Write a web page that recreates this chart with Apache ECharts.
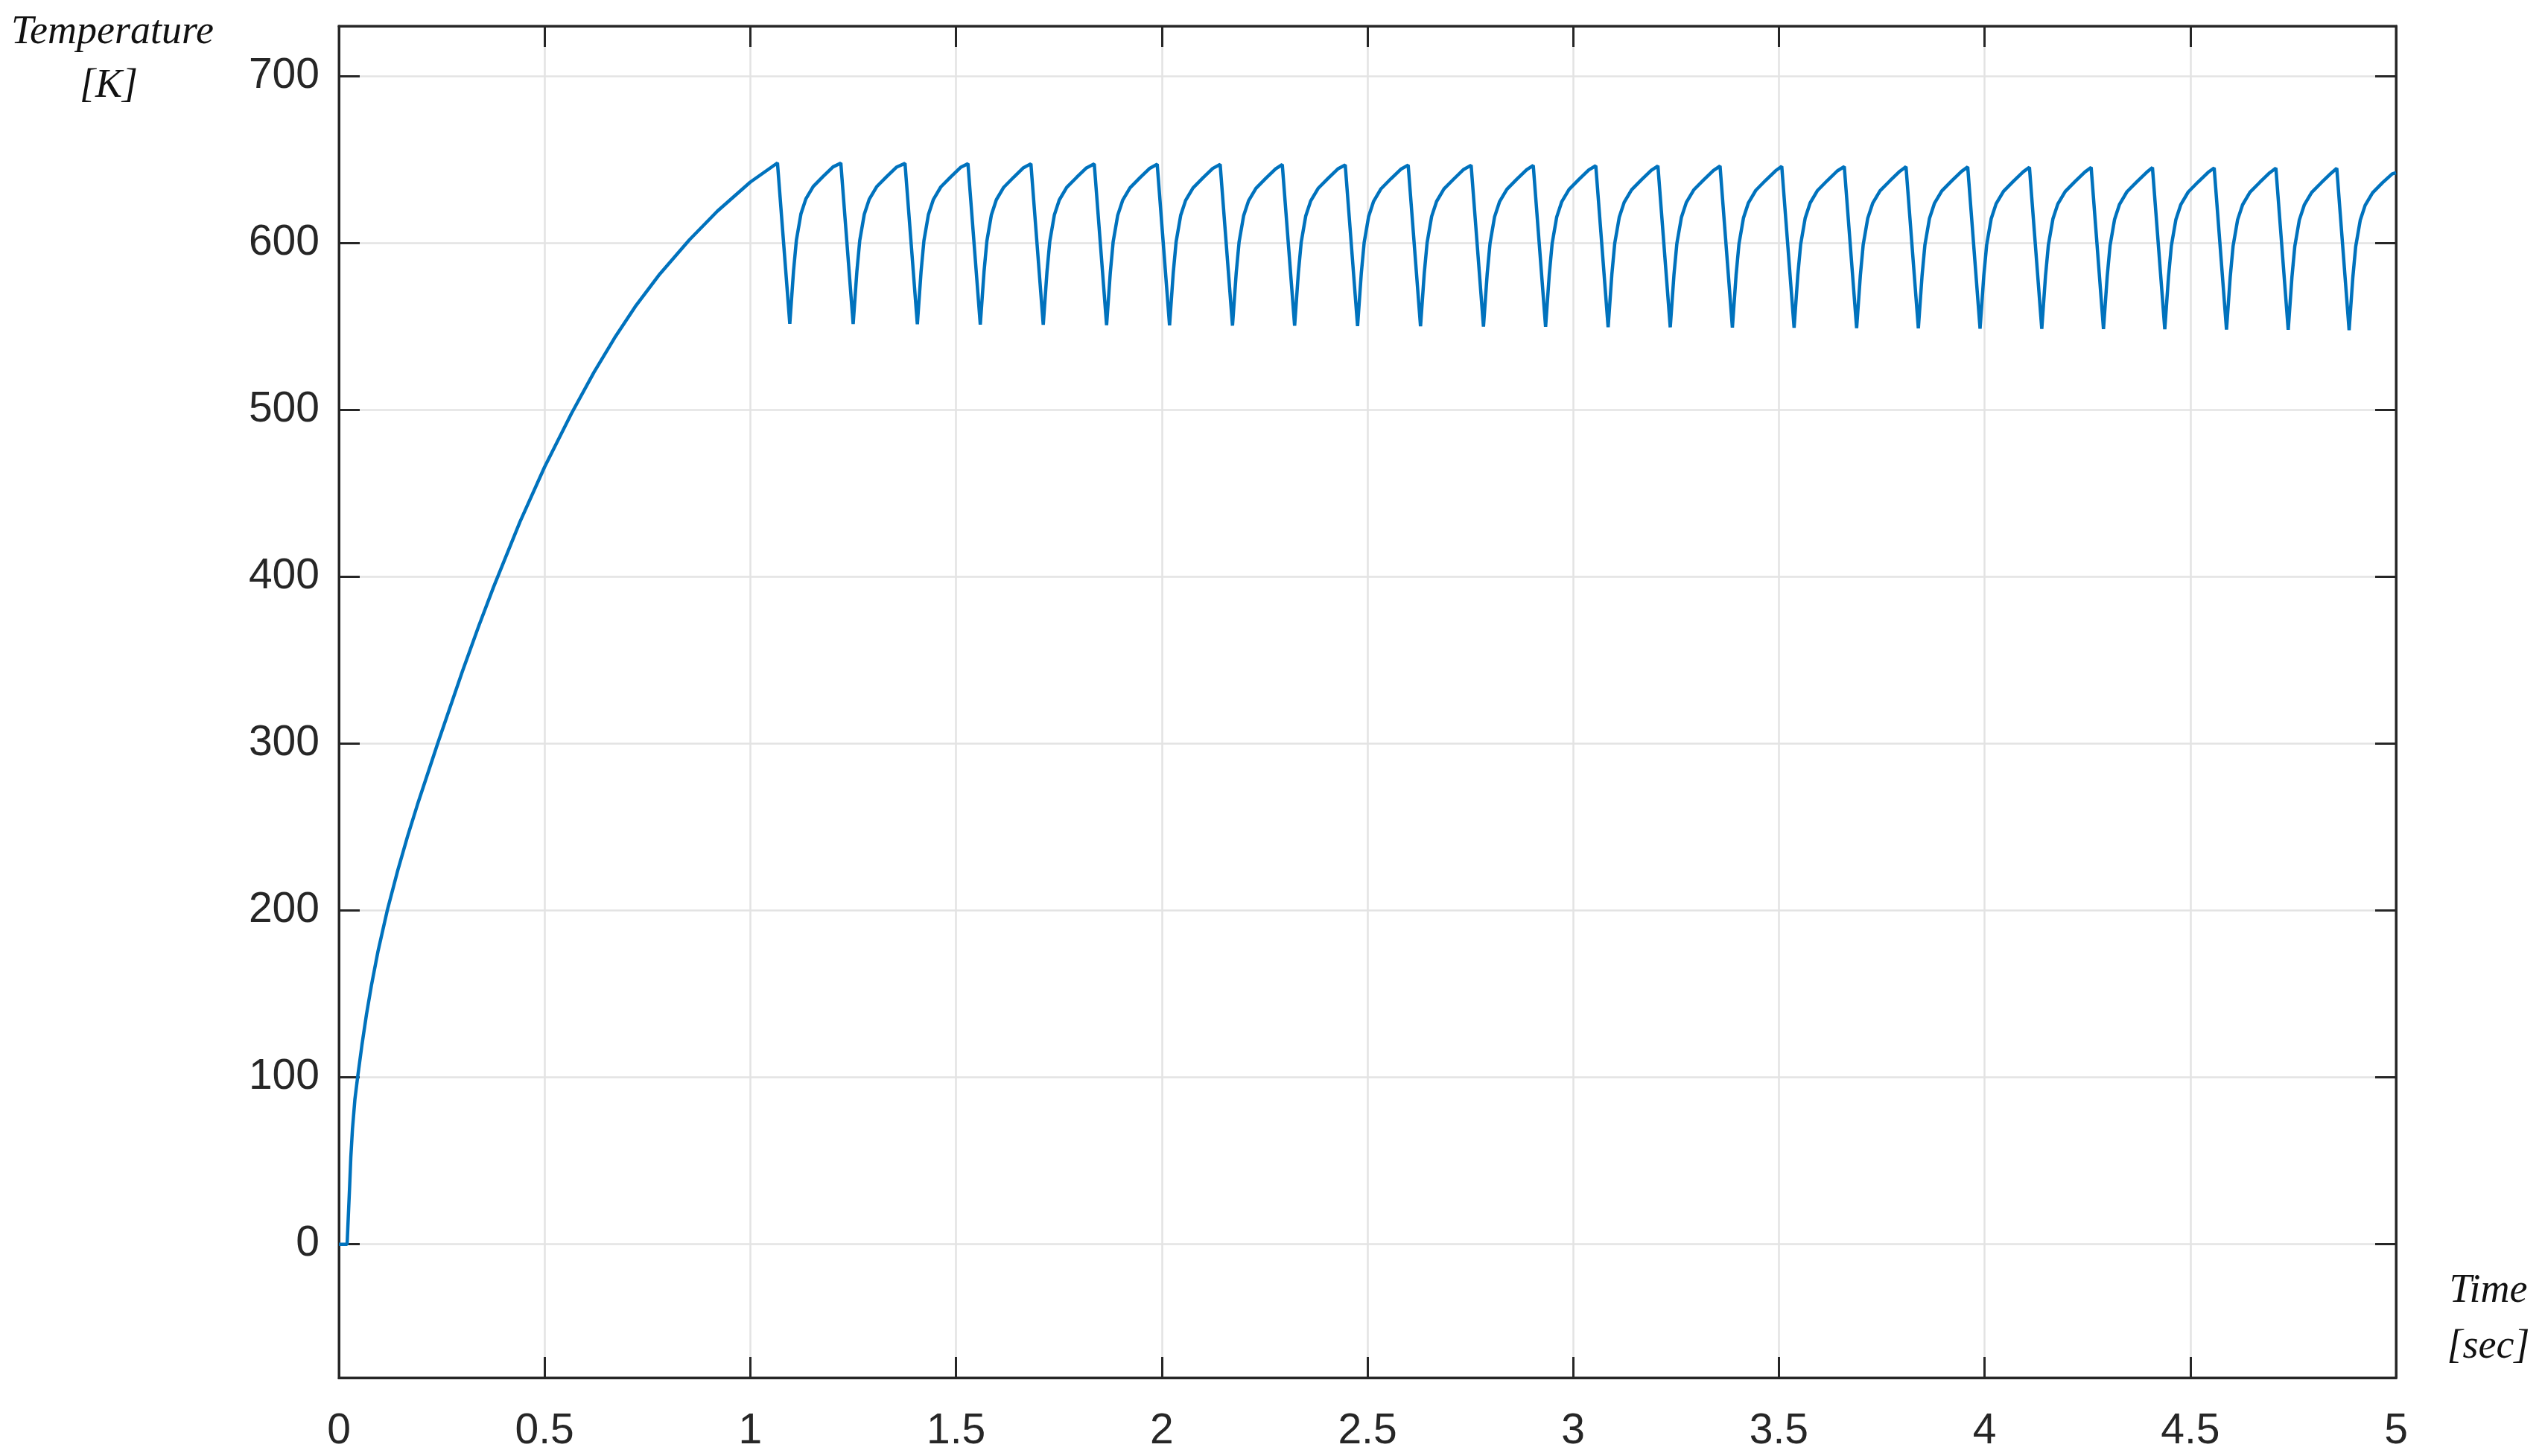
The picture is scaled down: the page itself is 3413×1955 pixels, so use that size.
<!DOCTYPE html>
<html>
<head>
<meta charset="utf-8">
<script src="https://cdn.jsdelivr.net/npm/echarts@6/dist/echarts.min.js"></script>
<style>
html,body{margin:0;padding:0;background:#fff;}
#chart{width:3413px;height:1955px;}
</style>
</head>
<body>
<div id="chart"></div>
<script>
// Heating phase (time in s, temperature in K)
const heatTime = [0, 0.020, 0.023, 0.026, 0.029, 0.033, 0.039, 0.0455, 0.056, 0.067, 0.079, 0.095, 0.118, 0.143,
  0.167, 0.191, 0.240, 0.300, 0.340, 0.376, 0.440, 0.500, 0.565, 0.620, 0.670, 0.720, 0.780, 0.852, 0.920, 1.000];
const heatTemp = [0, 0, 17, 34, 52, 69, 87, 100, 119.4, 137.6, 155, 175.5, 200.5, 224,
  244.5, 263.5, 300, 343.2, 370.5, 393.9, 432.8, 465.8, 497.7, 522.5, 543.1, 561.8, 581.4, 601.9, 619.1, 636.5];

// Cycling phase: peak, minimum, then recovery points of each cycle
const cycleTime = [
  1.066, 1.096, 1.105, 1.112, 1.123, 1.135, 1.153, 1.177, 1.201,
  1.220, 1.250, 1.259, 1.266, 1.277, 1.289, 1.307, 1.331, 1.355,
  1.376, 1.406, 1.415, 1.422, 1.433, 1.445, 1.463, 1.487, 1.511,
  1.529, 1.559, 1.568, 1.575, 1.586, 1.598, 1.616, 1.640, 1.664,
  1.682, 1.712, 1.721, 1.728, 1.739, 1.751, 1.769, 1.793, 1.817,
  1.836, 1.866, 1.875, 1.882, 1.893, 1.905, 1.923, 1.947, 1.971,
  1.989, 2.019, 2.028, 2.035, 2.046, 2.058, 2.076, 2.100, 2.124,
  2.142, 2.172, 2.181, 2.188, 2.199, 2.211, 2.229, 2.253, 2.277,
  2.293, 2.323, 2.332, 2.339, 2.350, 2.362, 2.380, 2.404, 2.428,
  2.446, 2.476, 2.485, 2.492, 2.503, 2.515, 2.533, 2.557, 2.581,
  2.599, 2.629, 2.638, 2.645, 2.656, 2.668, 2.686, 2.710, 2.734,
  2.752, 2.782, 2.791, 2.798, 2.809, 2.821, 2.839, 2.863, 2.887,
  2.903, 2.933, 2.942, 2.949, 2.960, 2.972, 2.990, 3.014, 3.038,
  3.055, 3.085, 3.094, 3.101, 3.112, 3.124, 3.142, 3.166, 3.190,
  3.206, 3.236, 3.245, 3.252, 3.263, 3.275, 3.293, 3.317, 3.341,
  3.357, 3.387, 3.396, 3.403, 3.414, 3.426, 3.444, 3.468, 3.492,
  3.507, 3.537, 3.546, 3.553, 3.564, 3.576, 3.594, 3.618, 3.642,
  3.659, 3.689, 3.698, 3.705, 3.716, 3.728, 3.746, 3.770, 3.794,
  3.809, 3.839, 3.848, 3.855, 3.866, 3.878, 3.896, 3.920, 3.944,
  3.959, 3.989, 3.998, 4.005, 4.016, 4.028, 4.046, 4.070, 4.094,
  4.109, 4.139, 4.148, 4.155, 4.166, 4.178, 4.196, 4.220, 4.244,
  4.259, 4.289, 4.298, 4.305, 4.316, 4.328, 4.346, 4.370, 4.394,
  4.408, 4.438, 4.447, 4.454, 4.465, 4.477, 4.495, 4.519, 4.543,
  4.558, 4.588, 4.597, 4.604, 4.615, 4.627, 4.645, 4.669, 4.693,
  4.708, 4.738, 4.747, 4.754, 4.765, 4.777, 4.795, 4.819, 4.843,
  4.856, 4.886, 4.895, 4.902, 4.913, 4.925, 4.943, 4.967, 4.991, 5.000
];
const cycleTemp = [
  648.0, 551.6, 583.1, 601.7, 617.4, 626.4, 633.9, 639.9, 645.6,
  647.9, 551.4, 582.9, 601.5, 617.2, 626.2, 633.7, 639.7, 645.4,
  647.7, 551.3, 582.8, 601.4, 617.1, 626.1, 633.6, 639.6, 645.3,
  647.6, 551.1, 582.6, 601.2, 616.9, 625.9, 633.4, 639.4, 645.1,
  647.5, 551.0, 582.5, 601.1, 616.8, 625.8, 633.3, 639.3, 645.0,
  647.4, 550.8, 582.3, 600.9, 616.6, 625.6, 633.1, 639.1, 644.8,
  647.2, 550.7, 582.2, 600.8, 616.5, 625.5, 633.0, 639.0, 644.7,
  647.1, 550.5, 582.0, 600.6, 616.3, 625.3, 632.8, 638.8, 644.5,
  647.0, 550.4, 581.9, 600.5, 616.2, 625.2, 632.7, 638.7, 644.4,
  646.8, 550.2, 581.7, 600.3, 616.0, 625.0, 632.5, 638.5, 644.2,
  646.7, 550.1, 581.6, 600.2, 615.9, 624.9, 632.4, 638.4, 644.1,
  646.6, 549.9, 581.4, 600.0, 615.7, 624.7, 632.2, 638.2, 643.9,
  646.5, 549.8, 581.3, 599.9, 615.6, 624.6, 632.1, 638.1, 643.8,
  646.3, 549.6, 581.1, 599.7, 615.4, 624.4, 631.9, 637.9, 643.6,
  646.2, 549.5, 581.0, 599.6, 615.3, 624.3, 631.8, 637.8, 643.5,
  646.1, 549.3, 580.8, 599.4, 615.1, 624.1, 631.6, 637.6, 643.3,
  645.9, 549.2, 580.7, 599.3, 615.0, 624.0, 631.5, 637.5, 643.2,
  645.8, 549.0, 580.5, 599.1, 614.8, 623.8, 631.3, 637.3, 643.0,
  645.7, 548.9, 580.4, 599.0, 614.7, 623.7, 631.2, 637.2, 642.9,
  645.6, 548.7, 580.2, 598.8, 614.5, 623.5, 631.0, 637.0, 642.7,
  645.4, 548.6, 580.1, 598.7, 614.4, 623.4, 630.9, 636.9, 642.6,
  645.3, 548.4, 579.9, 598.5, 614.2, 623.2, 630.7, 636.7, 642.4,
  645.2, 548.3, 579.8, 598.4, 614.1, 623.1, 630.6, 636.6, 642.3,
  645.0, 548.1, 579.6, 598.2, 613.9, 622.9, 630.4, 636.4, 642.1,
  644.9, 548.0, 579.5, 598.1, 613.8, 622.8, 630.3, 636.3, 642.0,
  644.8, 547.8, 579.3, 597.9, 613.6, 622.6, 630.1, 636.1, 641.5, 642.1
];

const yTicks = [0, 100, 200, 300, 400, 500, 600, 700];
const xMin = 0, xMax = 5, xStep = 0.5;
const yMin = -80, yMax = 730;
const yTitle = ['Temperature', '[K]'];
const xTitle = ['Time', '[sec]'];

const allTime = heatTime.concat(cycleTime);
const allTemp = heatTemp.concat(cycleTemp);
const seriesData = allTime.map((t, i) => [t, allTemp[i]]);

const axisColor = '#262626';
const gridColor = '#e3e3e3';
const labelFont = 'Liberation Sans, Arial, sans-serif';
const titleFont = 'Liberation Serif, Times New Roman, serif';

const chart = echarts.init(document.getElementById('chart'), null, {renderer: 'canvas'});

const commonLine = {show: true, onZero: false, lineStyle: {color: axisColor, width: 3}};
const commonTick = {show: true, inside: true, length: 28, lineStyle: {color: axisColor, width: 3}};

chart.setOption({
  animation: false,
  backgroundColor: '#ffffff',
  grid: {
    left: 455, right: 196, top: 35, bottom: 105,
    containLabel: false,
    show: true, borderColor: axisColor, borderWidth: 3, backgroundColor: 'transparent'
  },
  xAxis: [
    {
      type: 'value', position: 'bottom', min: xMin, max: xMax, interval: xStep,
      axisLine: commonLine, axisTick: commonTick,
      axisLabel: {show: true, fontSize: 57, lineHeight: 57, margin: 44, color: axisColor, fontFamily: labelFont},
      splitLine: {show: true, lineStyle: {color: gridColor, width: 2.5}}
    },
    {
      type: 'value', position: 'top', min: xMin, max: xMax, interval: xStep,
      axisLine: commonLine, axisTick: commonTick,
      axisLabel: {show: false}, splitLine: {show: false}
    }
  ],
  yAxis: [
    {
      type: 'value', position: 'left', min: yMin, max: yMax,
      axisLine: commonLine,
      axisTick: Object.assign({customValues: yTicks}, commonTick),
      axisLabel: {show: true, customValues: yTicks, fontSize: 57, margin: 26, color: axisColor, fontFamily: labelFont},
      splitLine: {show: true, lineStyle: {color: gridColor, width: 2.5}}
    },
    {
      type: 'value', position: 'right', min: yMin, max: yMax,
      axisLine: commonLine,
      axisTick: Object.assign({customValues: yTicks}, commonTick),
      axisLabel: {show: false, customValues: yTicks}, splitLine: {show: false}
    }
  ],
  series: [{
    type: 'line',
    xAxisIndex: 0, yAxisIndex: 0,
    data: seriesData,
    showSymbol: false,
    symbol: 'none',
    smooth: false,
    lineStyle: {color: '#0072BD', width: 4.5},
    z: 5
  }],
  graphic: [
    {type: 'text', x: 151, y: 44, style: {text: yTitle[0], fontSize: 54, fontStyle: 'italic', fontFamily: titleFont, fill: '#111', align: 'center', verticalAlign: 'middle'}},
    {type: 'text', x: 146, y: 116, style: {text: yTitle[1], fontSize: 54, fontStyle: 'italic', fontFamily: titleFont, fill: '#111', align: 'center', verticalAlign: 'middle'}},
    {type: 'text', x: 3341, y: 1734, style: {text: xTitle[0], fontSize: 54, fontStyle: 'italic', fontFamily: titleFont, fill: '#111', align: 'center', verticalAlign: 'middle'}},
    {type: 'text', x: 3341, y: 1809, style: {text: xTitle[1], fontSize: 54, fontStyle: 'italic', fontFamily: titleFont, fill: '#111', align: 'center', verticalAlign: 'middle'}}
  ]
});
</script>
</body>
</html>
